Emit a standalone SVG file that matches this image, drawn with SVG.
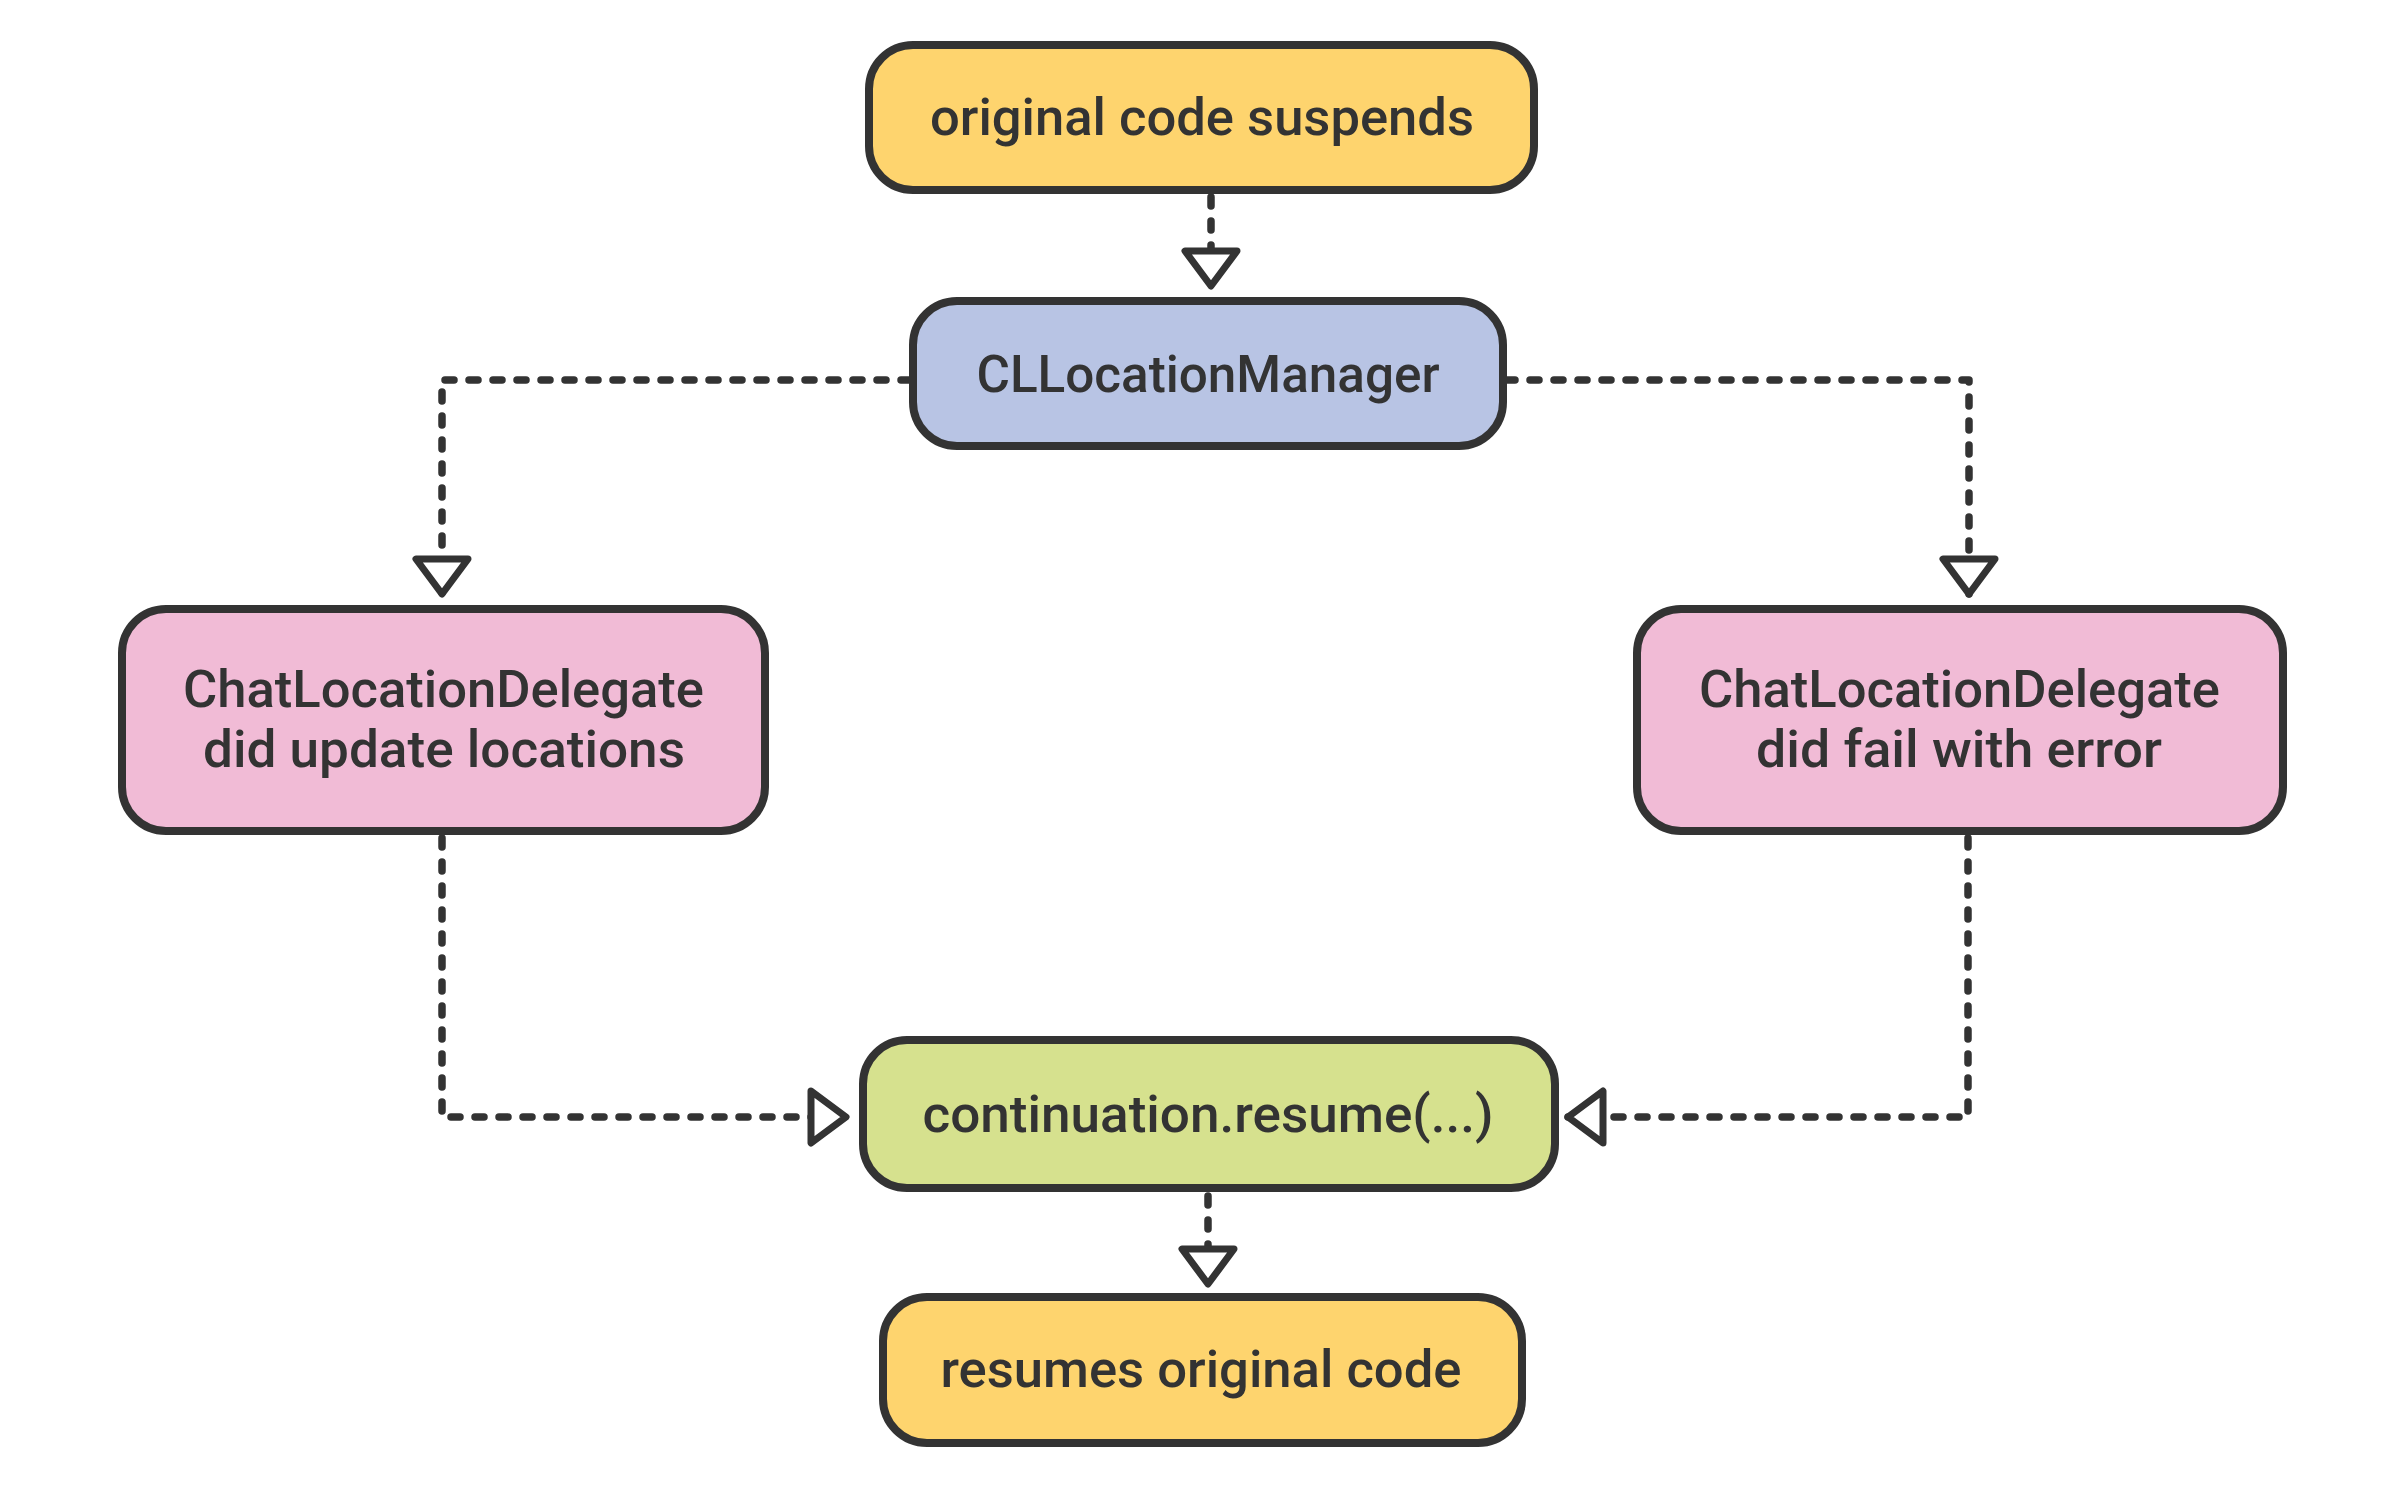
<svg xmlns="http://www.w3.org/2000/svg" width="2400" height="1488" viewBox="0 0 2400 1488">
  <style>
    .box { stroke: #333333; stroke-width: 8; }
    .yellow { fill: #FED46E; }
    .blue { fill: #B8C4E4; }
    .pink { fill: #F1BBD6; }
    .green { fill: #D6E18E; }
    .lbl { font-family: Roboto, "Noto Sans", sans-serif; font-size: 52px; font-weight: 500; fill: #333333; text-anchor: middle; }
    .edge { fill: none; stroke: #333333; stroke-width: 7.5; stroke-linecap: round; stroke-linejoin: round; stroke-dasharray: 9 15; marker-end: url(#tri); }
  </style>
  <defs>
    <marker id="tri" markerUnits="userSpaceOnUse" viewBox="-44 -34 52 68" refX="0" refY="0" markerWidth="52" markerHeight="68" orient="auto" overflow="visible">
      <path d="M-35,-26 L0,0 L-35,26 Z" fill="#ffffff" stroke="#333333" stroke-width="7" stroke-linejoin="round"/>
    </marker>
  </defs>
  <rect width="2400" height="1488" fill="#ffffff"/>
  <g id="connectors">
    <path class="edge" d="M1211,197 V286"/>
    <path class="edge" d="M910,380 H442 V594"/>
    <path class="edge" d="M1506,380 H1969 V594"/>
    <path class="edge" d="M442,838 V1117 H846"/>
    <path class="edge" d="M1968,838 V1117 H1568"/>
    <path class="edge" d="M1208,1196 V1284"/>
  </g>
  <g id="node-suspends">
    <rect class="box yellow" x="869" y="45" width="665" height="145" rx="44"/>
    <text class="lbl" x="1202" y="135" textLength="544" lengthAdjust="spacingAndGlyphs">original code suspends</text>
  </g>
  <g id="node-manager">
    <rect class="box blue" x="913" y="301" width="590" height="145" rx="44"/>
    <text class="lbl" x="1208" y="392" textLength="463" lengthAdjust="spacingAndGlyphs">CLLocationManager</text>
  </g>
  <g id="node-update">
    <rect class="box pink" x="122" y="609" width="643" height="222" rx="44"/>
    <text class="lbl" x="443.5" y="707" textLength="521" lengthAdjust="spacingAndGlyphs">ChatLocationDelegate</text>
    <text class="lbl" x="444" y="767" textLength="482" lengthAdjust="spacingAndGlyphs">did update locations</text>
  </g>
  <g id="node-fail">
    <rect class="box pink" x="1637" y="609" width="646" height="222" rx="44"/>
    <text class="lbl" x="1959.5" y="707" textLength="521" lengthAdjust="spacingAndGlyphs">ChatLocationDelegate</text>
    <text class="lbl" x="1959" y="767" textLength="406" lengthAdjust="spacingAndGlyphs">did fail with error</text>
  </g>
  <g id="node-resume">
    <rect class="box green" x="863" y="1040" width="692" height="148" rx="44"/>
    <text class="lbl" x="1208" y="1132" textLength="571" lengthAdjust="spacingAndGlyphs">continuation.resume(...)</text>
  </g>
  <g id="node-resumes">
    <rect class="box yellow" x="883" y="1297" width="639" height="146" rx="44"/>
    <text class="lbl" x="1201" y="1387" textLength="521" lengthAdjust="spacingAndGlyphs">resumes original code</text>
  </g>
</svg>
